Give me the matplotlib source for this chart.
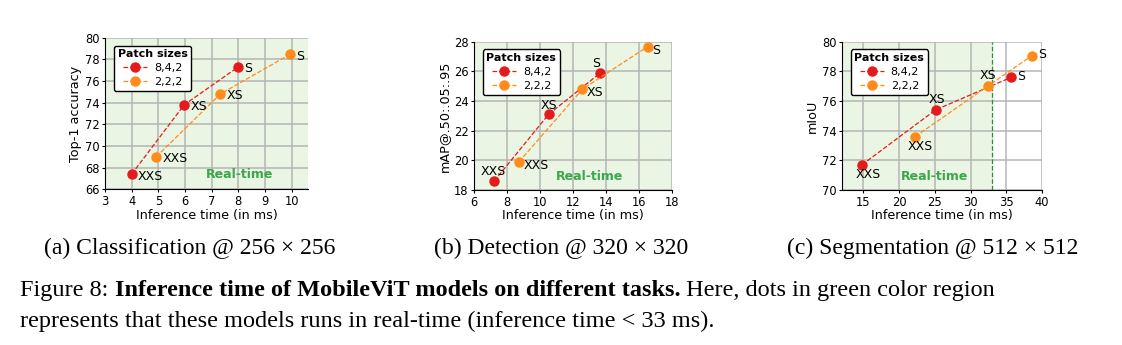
import matplotlib.pyplot as plt

# (a) classification
cls_red_x = [4.0, 5.97, 8.0]
cls_red_y = [67.4, 73.8, 77.3]
cls_org_x = [4.92, 7.33, 9.93]
cls_org_y = [69.0, 74.8, 78.45]

# (b) detection
det_red_x = [7.22, 10.52, 13.62]
det_red_y = [18.6, 23.1, 25.87]
det_org_x = [8.72, 12.57, 16.52]
det_org_y = [19.9, 24.8, 27.67]

# (c) segmentation
seg_red_x = [14.8, 25.1, 35.7]
seg_red_y = [71.7, 75.4, 77.6]
seg_org_x = [22.25, 32.4, 38.6]
seg_org_y = [73.6, 77.0, 79.07]

model_names = ["XXS", "XS", "S"]
legend_names = ["8,4,2", "2,2,2"]
captions = ["(a) Classification @ 256 \u00d7 256",
            "(b) Detection @ 320 \u00d7 320",
            "(c) Segmentation @ 512 \u00d7 512"]
caption_x = [190, 561, 933]  # pixel centres

RED = "#e41a1c"
ORANGE = "#ff8c1a"
GREEN_BG = "#eaf5e3"
GREEN_TXT = "#3aa84a"

plt.rcParams['font.family'] = ['DejaVu Sans']

fig = plt.figure(figsize=(11.22, 3.45), dpi=100)

panels = [
    dict(pos=[0.0936, 0.4513, 0.181, 0.4394], xlim=(3, 10.62), ylim=(66, 80),
         xticks=range(3, 11), yticks=range(66, 81, 2), ylabel="Top-1 accuracy",
         rx=cls_red_x, ry=cls_red_y, ox=cls_org_x, oy=cls_org_y, rt=33,
         rt_text=(8.05, 66.75),
         red_off=[(4.5, -1.5, 'left'), (4.5, -1.5, 'left'), (4.5, -1, 'left')],
         org_off=[(4.5, -1, 'left'), (4.5, -1, 'left'), (4.5, -1.5, 'left')]),
    dict(pos=[0.4225, 0.4493, 0.1765, 0.4298], xlim=(6, 18), ylim=(18, 28),
         xticks=range(6, 19, 2), yticks=range(18, 29, 2), ylabel="mAP@.50:.05:.95",
         rx=det_red_x, ry=det_red_y, ox=det_org_x, oy=det_org_y, rt=33,
         rt_text=(13.0, 18.5),
         red_off=[(-1, 7, 'center'), (0, 6.5, 'center'), (-3, 7, 'center')],
         org_off=[(3.3, -2.5, 'left'), (3.3, -2.5, 'left'), (3.3, -2.5, 'left')]),
    dict(pos=[0.7504, 0.4493, 0.1783, 0.4298], xlim=(12, 40), ylim=(70, 80),
         xticks=range(15, 41, 5), yticks=range(70, 81, 2), ylabel="mIoU",
         rx=seg_red_x, ry=seg_red_y, ox=seg_org_x, oy=seg_org_y, rt=33,
         rt_text=(25.0, 70.5),
         red_off=[(4.5, -7, 'center'), (1, 7.5, 'center'), (4.5, 0.5, 'left')],
         org_off=[(3.5, -7, 'center'), (0, 7.5, 'center'), (4.5, 0.5, 'left')]),
]

for p, cap, cx in zip(panels, captions, caption_x):
    ax = fig.add_axes(p['pos'])
    ax.set_xlim(*p['xlim'])
    ax.set_ylim(*p['ylim'])
    ax.axvspan(p['xlim'][0], min(p['rt'], p['xlim'][1]), color=GREEN_BG, zorder=0)
    if p['rt'] < p['xlim'][1]:
        ax.axvline(p['rt'], color="#2e8b3e", ls='--', lw=0.9, zorder=1)
    ax.set_xticks(list(p['xticks']))
    ax.set_yticks(list(p['yticks']))
    ax.grid(True, color="#b5b5b5", lw=1.1, zorder=0.5)
    ax.set_axisbelow(True)
    for s in ['top', 'right']:
        ax.spines[s].set_visible(False)
    ax.tick_params(labelsize=8.3, length=2.5, pad=1.5)
    ax.set_xlabel("Inference time (in ms)", fontsize=9.2, labelpad=0.5)
    ax.set_ylabel(p['ylabel'], fontsize=9.2, labelpad=2)

    ax.plot(p['rx'], p['ry'], '--o', color=RED, ms=6.5, lw=0.9, label=legend_names[0], zorder=3)
    ax.plot(p['ox'], p['oy'], '--o', color=ORANGE, ms=6.5, lw=0.9, label=legend_names[1], zorder=3)

    for xs, ys, offs in [(p['rx'], p['ry'], p['red_off']), (p['ox'], p['oy'], p['org_off'])]:
        for name, x, y, (dx, dy, ha) in zip(model_names, xs, ys, offs):
            ax.annotate(name, (x, y), xytext=(dx, dy), textcoords='offset points',
                        ha=ha, va='center', fontsize=9, zorder=4)

    ax.text(p['rt_text'][0], p['rt_text'][1], "Real-time", color=GREEN_TXT,
            fontsize=9, fontweight='bold', ha='center', va='bottom')

    leg = ax.legend(loc='upper left', fontsize=8, title="Patch sizes",
                    title_fontproperties={'weight': 'bold', 'size': 8},
                    frameon=True, fancybox=True, edgecolor='black',
                    framealpha=1, handlelength=2.2, borderpad=0.35,
                    labelspacing=0.35, handletextpad=0.6,
                    bbox_to_anchor=(0.015, 0.985))
    leg.get_frame().set_linewidth(1.0)

    fig.text(cx / 1122, 0.281, cap, fontsize=17, family='Liberation Serif',
             ha='center', va='center')

# figure caption, first line mixes regular and bold text
fs = 17.5
y1, y2 = 0.159, 0.067
fig.canvas.draw()
r = fig.canvas.get_renderer()
t1 = fig.text(0.018, y1, "Figure 8: ", fontsize=fs, family='Liberation Serif', va='center')
x0 = t1.get_window_extent(r).x1 / fig.bbox.width
t2 = fig.text(x0, y1, "Inference time of MobileViT models on different tasks.",
              fontsize=fs, family='Liberation Serif', weight='bold', va='center')
x1 = t2.get_window_extent(r).x1 / fig.bbox.width
fig.text(x1, y1, " Here, dots in green color region", fontsize=fs,
         family='Liberation Serif', va='center')
fig.text(0.018, y2, "represents that these models runs in real-time (inference time < 33 ms).",
         fontsize=fs, family='Liberation Serif', va='center')

fig.savefig("out.png", dpi=100)
